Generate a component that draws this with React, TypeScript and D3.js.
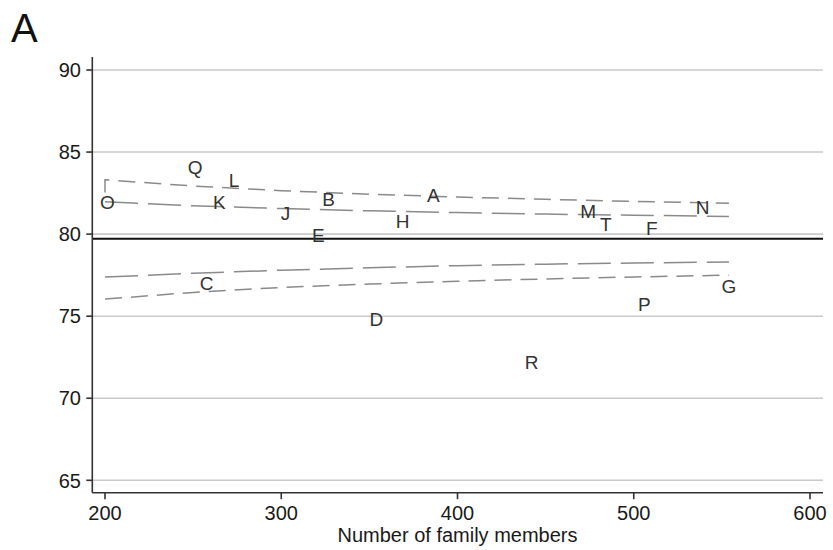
import React from 'react';
import * as d3 from 'd3';

// funnel plot, panel A
const xTicks = [200, 300, 400, 500, 600];
const yTicks = [65, 70, 75, 80, 85, 90];
const meanValue = 79.72;

const funnelX = [200, 250, 300, 350, 400, 450, 500, 554];
const upperOuter = [83.31, 82.93, 82.65, 82.43, 82.26, 82.12, 81.99, 81.88];
const upperInner = [81.97, 81.73, 81.56, 81.42, 81.31, 81.22, 81.15, 81.08];
const lowerInner = [77.38, 77.62, 77.8, 77.95, 78.08, 78.17, 78.24, 78.3];
const lowerOuter = [76.04, 76.45, 76.75, 76.96, 77.13, 77.27, 77.39, 77.5];
const upperOuterStart = 82.54;

const labels = ['O', 'Q', 'L', 'K', 'J', 'B', 'E', 'A', 'H', 'M', 'T', 'F', 'N', 'C', 'D', 'R', 'P', 'G'];
const members = [201.3, 251.1, 273.2, 264.9, 302.4, 326.9, 321, 386.3, 368.9, 474.2, 484.1, 510.2, 539.1, 257.7, 353.9, 442.1, 506, 554];
const rates = [81.94, 84.07, 83.26, 81.94, 81.27, 82.12, 79.95, 82.38, 80.82, 81.37, 80.62, 80.35, 81.67, 77.0, 74.79, 72.17, 75.72, 76.8];

const width = 833;
const height = 550;
const font = '"Liberation Sans", Arial, Helvetica, sans-serif';

export default function App() {
    const x = d3.scaleLinear([200, 600], [105, 810]);
    const y = d3.scaleLinear([65, 90], [480.3, 70]);
    const left = 92.3;
    const right = 823;
    const bottom = 492.7;
    const top = 57;

    const line = d3.line((d, i) => x(funnelX[i]), (d) => y(d));
    const outerPts: [number, number][] = [[x(200), y(upperOuterStart)], ...funnelX.map((v, i) => [x(v), y(upperOuter[i])] as [number, number])];

    return (
        <svg width={width} height={height} style={{ position: 'absolute', left: 0, top: 0, background: '#fff' }}>
            <text x={11} y={42} fontSize={40} fontFamily={font} fill="#111">A</text>

            {yTicks.map((t) => (
                <line key={t} x1={left} x2={right} y1={y(t)} y2={y(t)} stroke="#cacaca" strokeWidth={1.6} />
            ))}

            <g fill="none" stroke="#8a8a8a" strokeWidth={1.5}>
                <path d={d3.line()(outerPts) || ''} strokeDasharray="17 9" />
                <path d={line(upperInner) || ''} strokeDasharray="33 10" />
                <path d={line(lowerInner) || ''} strokeDasharray="33 10" />
                <path d={line(lowerOuter) || ''} strokeDasharray="17 9" />
            </g>

            <line x1={left} x2={right} y1={y(meanValue)} y2={y(meanValue)} stroke="#111" strokeWidth={2} />

            <g fill="#333" fontFamily={font} fontSize={19} textAnchor="middle">
                {labels.map((l, i) => (
                    <text key={l} x={x(members[i])} y={y(rates[i])} dy="0.36em">{l}</text>
                ))}
            </g>

            <g stroke="#333" strokeWidth={1.6}>
                <line x1={left} x2={left} y1={top} y2={bottom} />
                <line x1={left} x2={right} y1={bottom} y2={bottom} />
                {yTicks.map((t) => (
                    <line key={t} x1={left - 6} x2={left} y1={y(t)} y2={y(t)} />
                ))}
                {xTicks.map((t) => (
                    <line key={t} x1={x(t)} x2={x(t)} y1={bottom} y2={bottom + 6.5} />
                ))}
            </g>

            <g fontFamily={font} fontSize={20} fill="#1a1a1a">
                {yTicks.map((t) => (
                    <text key={t} x={81} y={y(t)} dy="0.36em" textAnchor="end">{t}</text>
                ))}
                {xTicks.map((t) => (
                    <text key={t} x={x(t)} y={520} textAnchor="middle">{t}</text>
                ))}
                <text x={(x(200) + x(600)) / 2} y={541.5} textAnchor="middle">Number of family members</text>
            </g>
        </svg>
    );
}
